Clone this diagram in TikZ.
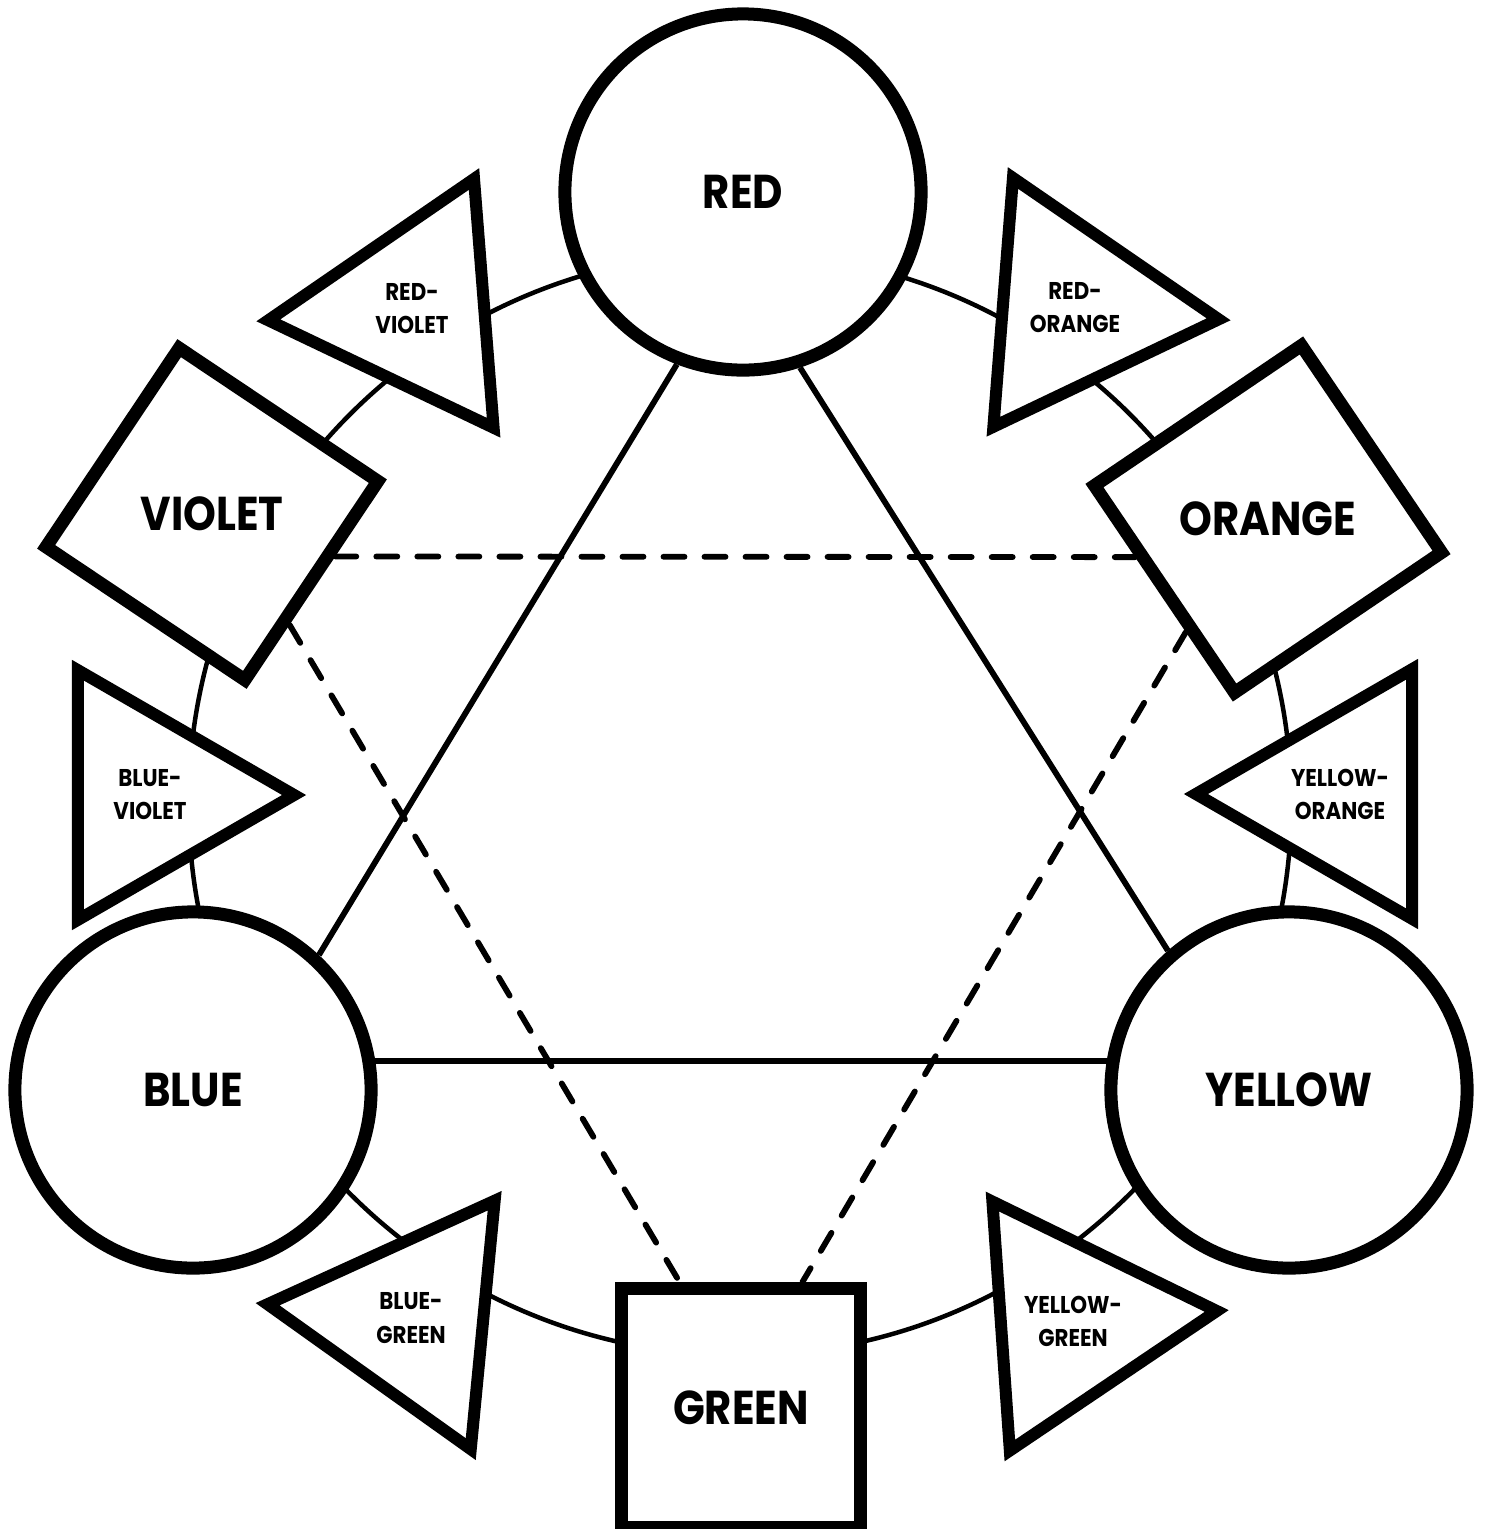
\documentclass[tikz,border=0pt]{standalone}
\usepackage{fontspec}
\setmainfont{Poppins}[FakeStretch=0.88]
\usepackage{tikz}
\usetikzlibrary{shapes.geometric}
\tikzset{
    primary/.style={circle, draw, line width=0.13cm, fill=white, minimum size=3.56cm, inner sep=0pt, font=\fontsize{13.5}{16}\selectfont\bfseries},
    secondary/.style={regular polygon, regular polygon sides=4, draw, line width=0.13cm, fill=white, minimum size=3.38cm, inner sep=0pt, font=\fontsize{13.5}{16}\selectfont\bfseries},
    tertiary/.style={regular polygon, regular polygon sides=3, draw, line width=0.12cm, fill=white, minimum size=2.88cm, inner sep=0pt, align=center, font=\fontsize{6.9}{9.4}\selectfont\bfseries},
    wheel/.style={circle, draw, line width=0.045cm, minimum size=11.02cm, inner sep=0pt},
    mixline/.style={line width=0.058cm},
    complement/.style={line width=0.058cm, dash pattern=on 0.21cm off 0.2cm, line cap=round},
}

\begin{document}
\begin{tikzpicture}[x=0.01cm, y=-0.01cm]
\useasboundingbox (0,0) rectangle (1486,1529);

% === COLOUR WHEEL ===
\node[wheel] (wheel) at (740,804) {};

% === PRIMARY COLOURS ===
\node[primary] (red) at (743,192) {RED};
\node[primary] (blue) at (193,1090) {BLUE};
\node[primary] (yellow) at (1289,1090) {YELLOW};

% === SECONDARY COLOURS ===
\node[secondary, shape border rotate=-33.8] (violet) at (212,514) {VIOLET};
\node[secondary, shape border rotate=34.1] (orange) at (1268,519) {ORANGE};
\node[secondary] (green) at (741,1408) {GREEN};

% === TERTIARY COLOURS ===
\node[tertiary, shape border rotate=-25.5] (redviolet) at (412,309) {RED-\\VIOLET};
\node[tertiary, shape border rotate=25.5] (redorange) at (1075,308) {RED-\\ORANGE};
\node[tertiary, shape border rotate=30] (blueviolet) at (150,795) {BLUE-\\VIOLET};
\node[tertiary, shape border rotate=-30] (yelloworange) at (1340,794) {YELLOW-\\ORANGE};
\node[tertiary, shape border rotate=-35.5] (bluegreen) at (411,1318) {BLUE-\\GREEN};
\node[tertiary, shape border rotate=34] (yellowgreen) at (1073,1321) {YELLOW-\\GREEN};

% === PRIMARY TRIAD (solid) ===
\draw[mixline] (red.249) -- (blue.47);
\draw[mixline] (red.288) -- (yellow.131);
\draw[mixline] (blue.9) -- (yellow.171);

% === SECONDARY TRIAD (dashed) ===
\draw[complement] (violet.341) -- (orange.196);
\draw[complement] (violet.305) -- (green.116);
\draw[complement] (orange.234) -- (green.64);

\end{tikzpicture}
\end{document}
